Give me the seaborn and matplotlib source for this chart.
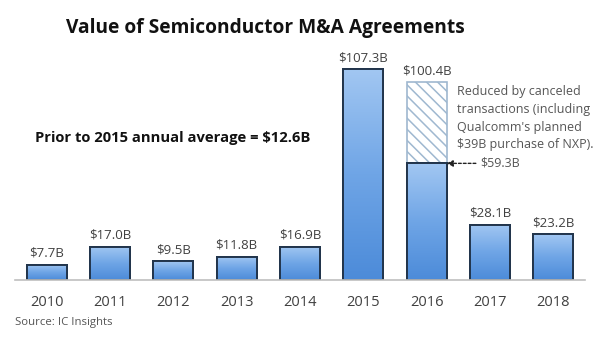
import numpy as np
import pandas as pd
import matplotlib
matplotlib.use("Agg")
import matplotlib.pyplot as plt
import seaborn as sns
from matplotlib.colors import LinearSegmentedColormap

years = ["2010", "2011", "2012", "2013", "2014", "2015", "2016", "2017", "2018"]
values = [7.7, 17.0, 9.5, 11.8, 16.9, 107.3, 59.3, 28.1, 23.2]
announced_2016 = 100.4
labels = ["$7.7B", "$17.0B", "$9.5B", "$11.8B", "$16.9B", "$107.3B", "$100.4B", "$28.1B", "$23.2B"]
label_vals = [7.7, 17.0, 9.5, 11.8, 16.9, 107.3, 100.4, 28.1, 23.2]
title = "Value of Semiconductor M&A Agreements"
avg_text = "Prior to 2015 annual average = $12.6B"
note_lines = ["Reduced by canceled", "transactions (including", "Qualcomm's planned", "$39B purchase of NXP)."]
completed_label = "$59.3B"
source = "Source: IC Insights"

sns.set_theme(style="white")
plt.rcParams["font.family"] = ["Open Sans", "DejaVu Sans"]
plt.rcParams["hatch.color"] = "#8FB3D3"

fig = plt.figure(figsize=(6, 3.44), dpi=100)
ax = fig.add_axes([0.025, 0.186, 0.95, 0.70])

df = pd.DataFrame({"year": years, "value": values})
announced = [0.0] * len(years)
announced[years.index("2016")] = announced_2016
df_ann = pd.DataFrame({"year": years, "value": announced})

# hatched announced total (drawn behind)
sns.barplot(data=df_ann, x="year", y="value", order=years, ax=ax, width=0.63,
            color="white", edgecolor="#9FB8D0", linewidth=1.2, hatch="\\\\\\", errorbar=None)
n_hatch = len(ax.patches)
for p in ax.patches:
    try:
        p.set_hatch_color("#8FB3D3")
    except Exception:
        pass
    if hasattr(p, "set_hatch_linewidth"):
        p.set_hatch_linewidth(1.1)

sns.barplot(data=df, x="year", y="value", order=years, ax=ax, width=0.63,
            color="#5B9BE0", edgecolor="#22354C", linewidth=1.4, errorbar=None)

cmap = LinearSegmentedColormap.from_list("bluegrad", ["#4C8BD9", "#6FA5E6", "#A2C7F2"])
grad = np.linspace(0, 1, 256).reshape(-1, 1)
for p in ax.patches[n_hatch:]:
    x0, y0 = p.get_x(), p.get_y()
    w, h = p.get_width(), p.get_height()
    if h <= 0:
        continue
    im = ax.imshow(grad, extent=[x0, x0 + w, y0, y0 + h], aspect="auto",
                   cmap=cmap, origin="lower", zorder=p.get_zorder() + 0.1)
    im.set_clip_path(p)
    p.set_facecolor("none")
    ax.add_patch(plt.Rectangle((x0, y0), w, h, fill=False, edgecolor="#22354C",
                               linewidth=1.4, zorder=p.get_zorder() + 0.2))

ax.set_xlim(-0.5, len(years) - 0.5)
ax.set_ylim(0, 122.4)

for i, (lab, v) in enumerate(zip(labels, label_vals)):
    ax.text(i, v + 2.5, lab, ha="center", va="bottom", fontsize=9.5, color="#404040")

for s in ["top", "right", "left"]:
    ax.spines[s].set_visible(False)
ax.spines["bottom"].set_color("#BFBFBF")
ax.spines["bottom"].set_linewidth(1.2)
ax.set_yticks([])
ax.set_xlabel("")
ax.set_ylabel("")
ax.tick_params(axis="x", which="major", length=0, labelsize=10.5, labelcolor="#404040", pad=11)
ax.set_xticks(np.arange(-0.5, len(years) + 0.5, 1), minor=True)
ax.tick_params(axis="x", which="minor", length=4, color="#BFBFBF", width=1.2, direction="out")

fig.text(0.442, 0.918, title, ha="center", va="center", fontsize=13.8, fontweight="bold", color="#111111")
fig.text(0.058, 0.598, avg_text, ha="left", va="center", fontsize=10.6, fontweight="bold", color="#111111")
for k, line in enumerate(note_lines):
    fig.text(0.762, 0.733 - k * 0.0515, line, ha="left", va="center", fontsize=9.0, color="#555555")

i16 = years.index("2016")
ax.annotate(completed_label, xy=(i16 + 0.315, values[i16]), xytext=(i16 + 0.85, values[i16]),
            ha="left", va="center", fontsize=9.0, color="#555555",
            arrowprops=dict(arrowstyle="-|>", color="#222222", linestyle=(0, (2, 1.5)),
                            linewidth=1.0, shrinkA=1, shrinkB=0, mutation_scale=9))

fig.text(0.025, 0.062, source, ha="left", va="center", fontsize=8.2, color="#555555")

fig.savefig("out.png", dpi=100, facecolor="white")
